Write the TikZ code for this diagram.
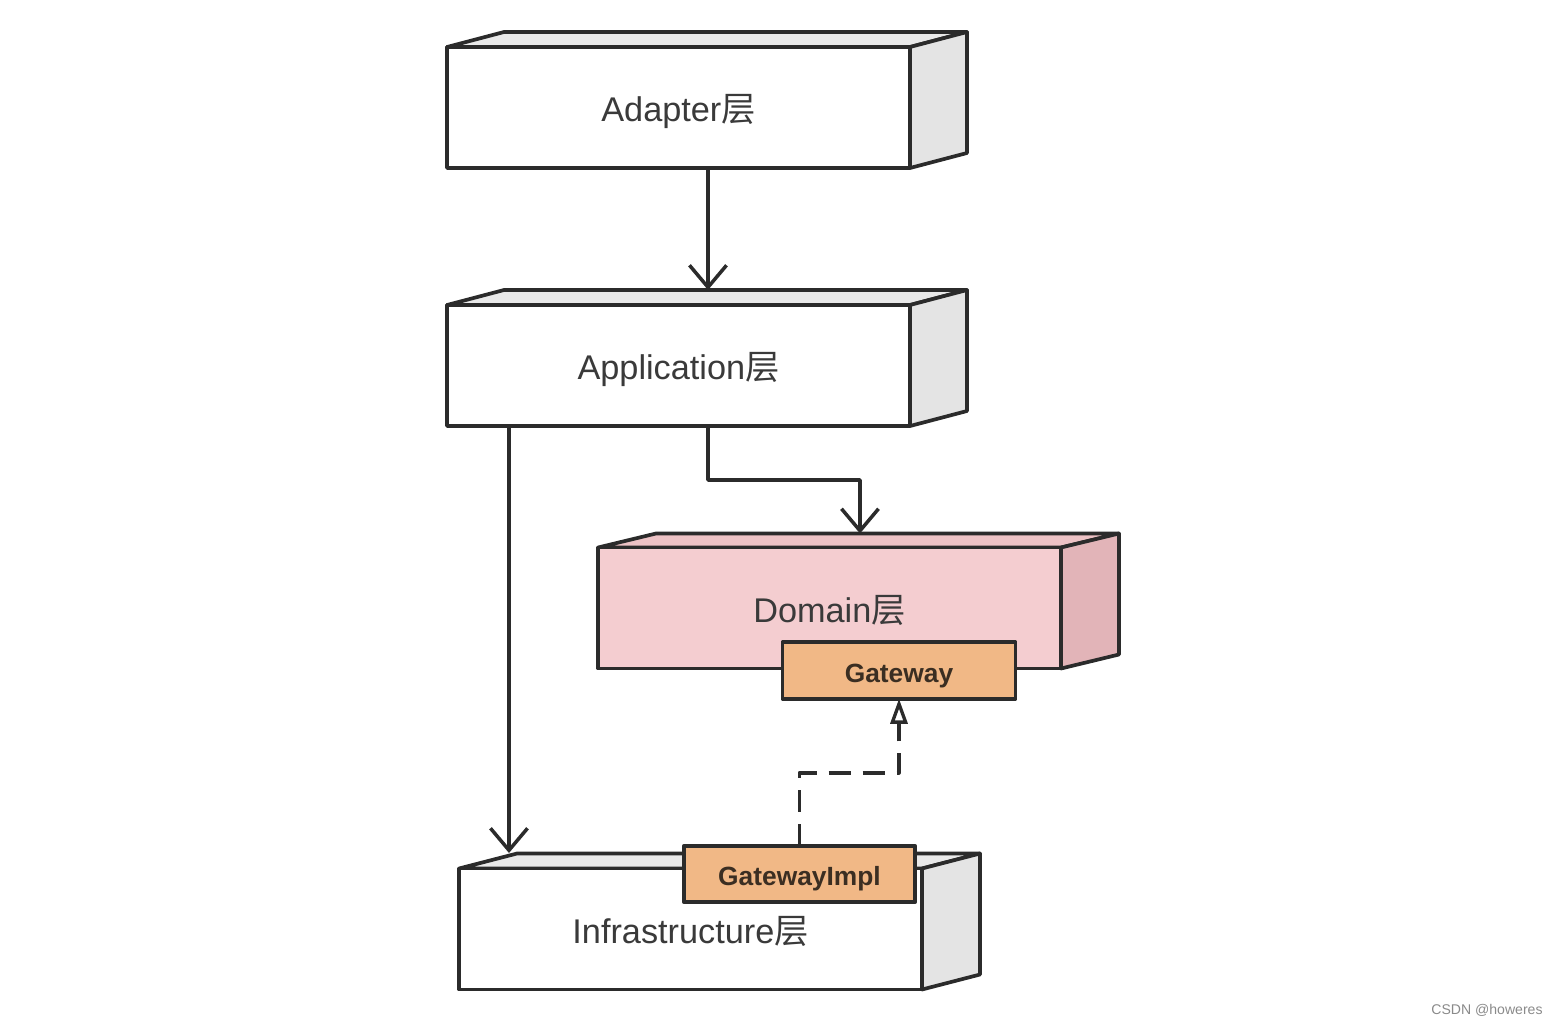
\documentclass[tikz,border=0pt]{standalone}
\usepackage{fontspec}
\setmainfont{Liberation Sans}
\newfontfamily\cjk{Noto Sans CJK SC}
\usetikzlibrary{arrows.meta,positioning,backgrounds}
\definecolor{lineDark}{HTML}{2B2B2B}
\definecolor{textDark}{HTML}{3A3A3A}
\definecolor{sideGray}{HTML}{E4E4E4}
\definecolor{topGray}{HTML}{E9E9E9}
\definecolor{domFront}{HTML}{F4CDD0}
\definecolor{domTop}{HTML}{EDC2C5}
\definecolor{domSide}{HTML}{E2B4B8}
\definecolor{portFill}{HTML}{F1B886}
\definecolor{portText}{HTML}{3B2E22}
\definecolor{markGray}{HTML}{8A8A8A}

\begin{document}
\begin{tikzpicture}[
  x=0.2mm, y=-0.2mm,
  line join=round,
  layer/.style={
    rectangle,
    draw=lineDark,
    fill=white,
    line width=2.1pt,
    outer sep=0pt,
    minimum width=92.6mm,
    minimum height=24.2mm,
    text height=17.5pt,
    text depth=1.2pt,
    text=textDark,
    font=\fontsize{19.5}{23}\selectfont,
  },
  face/.style={
    draw=lineDark,
    line width=2.1pt,
    line join=round,
  },
  port/.style={
    rectangle,
    draw=lineDark,
    fill=portFill,
    line width=2.1pt,
    outer sep=0pt,
    minimum width=46.6mm,
    minimum height=11.3mm,
    text height=13.8pt,
    text depth=0.6pt,
    text=portText,
    font=\fontsize{15}{18}\selectfont\bfseries,
  },
  dep/.style={
    -{Straight Barb[length=4.4mm, width=7.4mm, line width=2pt]},
    draw=lineDark,
    line width=2pt,
  },
  impl/.style={
    -{Triangle[open, length=5mm, width=3.4mm, line width=1.9pt]},
    draw=lineDark,
    line width=2pt,
    dash pattern=on 4.4mm off 2.4mm,
  },
]
  \useasboundingbox (0,0) rectangle (1550,1024);

  % layers (front faces)
  \node[layer] (ad) at (678.5,107.5) {Adapter{\cjk 层}};
  \node[layer] (app) at (678.5,365.5) {Application{\cjk 层}};
  \node[layer, fill=domFront] (dom) at (829.5,608) {Domain{\cjk 层}};
  \node[layer] (inf) at (690.5,929) {Infrastructure{\cjk 层}};

  % top and side faces
  \begin{scope}[on background layer]
    \draw[face, fill=topGray] (ad.north west) -- ++(57,-15) -- ++(463,0) -- (ad.north east) -- cycle;
    \draw[face, fill=sideGray] (ad.north east) -- ++(57,-15) -- ++(0,121) -- (ad.south east) -- cycle;
    \draw[face, fill=topGray] (app.north west) -- ++(57,-15) -- ++(463,0) -- (app.north east) -- cycle;
    \draw[face, fill=sideGray] (app.north east) -- ++(57,-15) -- ++(0,121) -- (app.south east) -- cycle;
    \draw[face, fill=domTop] (dom.north west) -- ++(58,-14) -- ++(463,0) -- (dom.north east) -- cycle;
    \draw[face, fill=domSide] (dom.north east) -- ++(58,-14) -- ++(0,121) -- (dom.south east) -- cycle;
    \draw[face, fill=topGray] (inf.north west) -- ++(58,-15) -- ++(463,0) -- (inf.north east) -- cycle;
    \draw[face, fill=sideGray] (inf.north east) -- ++(58,-15) -- ++(0,121) -- (inf.south east) -- cycle;
  \end{scope}

  % gateway ports
  \node[port] (gw) at (899,670.5) {Gateway};
  \node[port, minimum width=46.2mm] (gwi) at (799.5,874) {GatewayImpl};

  % dependencies
  \coordinate (inftop) at (509,853);
  \draw[dep] ([xshift=5.9mm]ad.south) -- ([xshift=5.9mm, yshift=3mm]app.north);
  \draw[dep] ([xshift=5.9mm]app.south) -- ++(0,54) -| ([xshift=6.1mm, yshift=2.8mm]dom.north);
  \draw[dep] (app.south -| inftop) -- (inftop);
  \draw[impl] (gwi.north) -- ++(0,-73) -| (gw.south);

  \node[font=\fontsize{8}{10}\selectfont, text=markGray] (mark) at (1487,1010) {CSDN @howeres};

\end{tikzpicture}
\end{document}
